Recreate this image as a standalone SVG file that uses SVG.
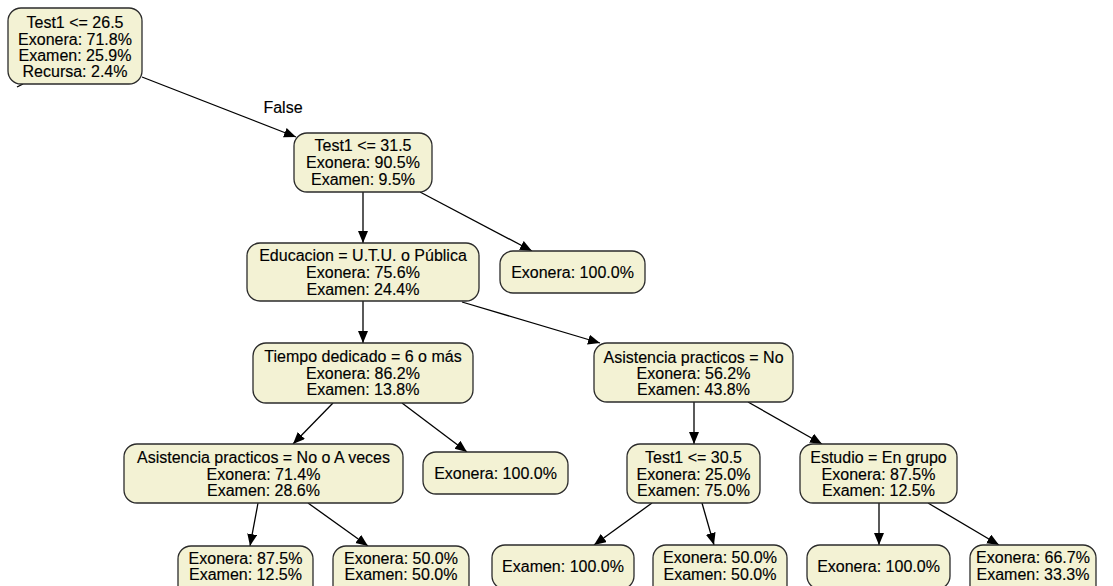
<svg xmlns="http://www.w3.org/2000/svg" width="1113" height="586" viewBox="0 0 1113 586">
  <defs>
    <marker id="arrow" markerUnits="userSpaceOnUse" markerWidth="13" markerHeight="11" refX="12" refY="5" orient="auto">
      <path d="M0,0 L12,5 L0,10 z" fill="#000"/>
    </marker>
    <style>
      .box { fill: #f3f2d4; stroke: #2b2b2b; stroke-width: 1.3; }
      .lbl { font-family: "Liberation Sans", Arial, Helvetica, sans-serif; font-size: 16px; fill: #000; text-anchor: middle; stroke: #000; stroke-width: 0.15; }
      .edge { stroke: #000; stroke-width: 1.3; fill: none; marker-end: url(#arrow); }
      .plain { stroke: #000; stroke-width: 1.3; fill: none; }
    </style>
  </defs>
  <rect width="1113" height="586" fill="#fff"/>

  <!-- connectors -->
  <g id="edges">
    <line class="plain" x1="23" y1="84" x2="17" y2="87"/>
    <line class="edge" x1="142" y1="77" x2="296" y2="137"/>
    <text class="lbl" x="283" y="113">False</text>
    <line class="edge" x1="363" y1="192" x2="363" y2="243"/>
    <line class="edge" x1="420" y1="192" x2="532" y2="251"/>
    <line class="edge" x1="363" y1="301" x2="363" y2="343"/>
    <line class="edge" x1="462" y1="302" x2="600" y2="343"/>
    <line class="edge" x1="333" y1="403" x2="293" y2="444"/>
    <line class="edge" x1="402" y1="403" x2="467" y2="452"/>
    <line class="edge" x1="258" y1="503" x2="250" y2="546"/>
    <line class="edge" x1="308" y1="503" x2="368" y2="546"/>
    <line class="edge" x1="694" y1="402" x2="694" y2="444"/>
    <line class="edge" x1="748" y1="402" x2="822" y2="444"/>
    <line class="edge" x1="652" y1="503" x2="594" y2="545"/>
    <line class="edge" x1="702" y1="503" x2="714" y2="545"/>
    <line class="edge" x1="879" y1="503" x2="879" y2="545"/>
    <line class="edge" x1="928" y1="503" x2="999" y2="545"/>
  </g>

  <g id="n-root">
    <rect class="box" x="8" y="8" width="134" height="76" rx="13"/>
    <text class="lbl"><tspan x="75" y="28">Test1 &lt;= 26.5</tspan><tspan x="75" y="44.5">Exonera: 71.8%</tspan><tspan x="75" y="61">Examen: 25.9%</tspan><tspan x="75" y="77">Recursa: 2.4%</tspan></text>
  </g>

  <g id="n-test1-315">
    <rect class="box" x="294" y="133" width="138" height="59" rx="13"/>
    <text class="lbl"><tspan x="363" y="151">Test1 &lt;= 31.5</tspan><tspan x="363" y="168">Exonera: 90.5%</tspan><tspan x="363" y="185">Examen: 9.5%</tspan></text>
  </g>

  <g id="n-educacion">
    <rect class="box" x="247" y="243" width="232" height="58" rx="13"/>
    <text class="lbl"><tspan x="363" y="261">Educacion = U.T.U. o Pública</tspan><tspan x="363" y="278">Exonera: 75.6%</tspan><tspan x="363" y="295">Examen: 24.4%</tspan></text>
  </g>

  <g id="n-leaf-a">
    <rect class="box" x="500" y="251" width="145" height="42" rx="13"/>
    <text class="lbl" x="572.5" y="278">Exonera: 100.0%</text>
  </g>

  <g id="n-tiempo">
    <rect class="box" x="253" y="343" width="220" height="60" rx="13"/>
    <text class="lbl"><tspan x="363" y="362">Tiempo dedicado = 6 o más</tspan><tspan x="363" y="379">Exonera: 86.2%</tspan><tspan x="363" y="395">Examen: 13.8%</tspan></text>
  </g>

  <g id="n-asist-no">
    <rect class="box" x="594" y="343" width="199" height="59" rx="13"/>
    <text class="lbl"><tspan x="693.5" y="363">Asistencia practicos = No</tspan><tspan x="693.5" y="379">Exonera: 56.2%</tspan><tspan x="693.5" y="395">Examen: 43.8%</tspan></text>
  </g>

  <g id="n-asist-noav">
    <rect class="box" x="124" y="444" width="279" height="59" rx="13"/>
    <text class="lbl"><tspan x="263.5" y="463">Asistencia practicos = No o A veces</tspan><tspan x="263.5" y="480">Exonera: 71.4%</tspan><tspan x="263.5" y="496">Examen: 28.6%</tspan></text>
  </g>

  <g id="n-leaf-b">
    <rect class="box" x="423" y="452" width="145" height="42" rx="13"/>
    <text class="lbl" x="495.5" y="479">Exonera: 100.0%</text>
  </g>

  <g id="n-test1-305">
    <rect class="box" x="627" y="444" width="133" height="59" rx="13"/>
    <text class="lbl"><tspan x="693.5" y="463">Test1 &lt;= 30.5</tspan><tspan x="693.5" y="480">Exonera: 25.0%</tspan><tspan x="693.5" y="496">Examen: 75.0%</tspan></text>
  </g>

  <g id="n-estudio">
    <rect class="box" x="800" y="444" width="157" height="59" rx="13"/>
    <text class="lbl"><tspan x="878.5" y="463">Estudio = En grupo</tspan><tspan x="878.5" y="480">Exonera: 87.5%</tspan><tspan x="878.5" y="496">Examen: 12.5%</tspan></text>
  </g>

  <g id="n-leaf-c">
    <rect class="box" x="178" y="546" width="135" height="59" rx="13"/>
    <text class="lbl"><tspan x="245.5" y="564">Exonera: 87.5%</tspan><tspan x="245.5" y="580">Examen: 12.5%</tspan></text>
  </g>

  <g id="n-leaf-d">
    <rect class="box" x="333" y="546" width="136" height="59" rx="13"/>
    <text class="lbl"><tspan x="401" y="564">Exonera: 50.0%</tspan><tspan x="401" y="580">Examen: 50.0%</tspan></text>
  </g>

  <g id="n-leaf-e">
    <rect class="box" x="492" y="545" width="142" height="44" rx="13"/>
    <text class="lbl" x="563" y="572">Examen: 100.0%</text>
  </g>

  <g id="n-leaf-f">
    <rect class="box" x="653" y="545" width="134" height="59" rx="13"/>
    <text class="lbl"><tspan x="720" y="563">Exonera: 50.0%</tspan><tspan x="720" y="580">Examen: 50.0%</tspan></text>
  </g>

  <g id="n-leaf-g">
    <rect class="box" x="807" y="545" width="143" height="44" rx="13"/>
    <text class="lbl" x="878.5" y="572">Exonera: 100.0%</text>
  </g>

  <g id="n-leaf-h">
    <rect class="box" x="970" y="545" width="126" height="59" rx="13"/>
    <text class="lbl"><tspan x="1033" y="563">Exonera: 66.7%</tspan><tspan x="1033" y="580">Examen: 33.3%</tspan></text>
  </g>
</svg>
